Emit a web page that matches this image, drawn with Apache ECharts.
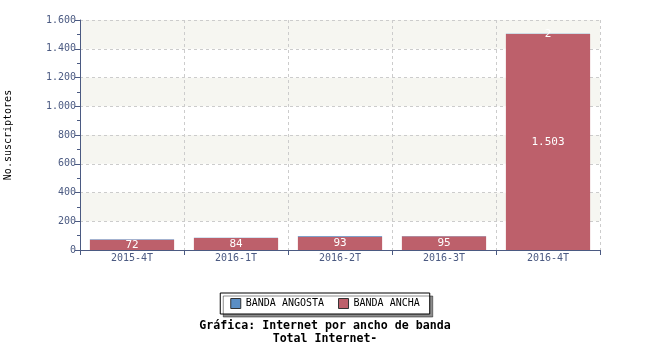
<!DOCTYPE html>
<html><head><meta charset="utf-8">
<script src="https://cdn.jsdelivr.net/npm/echarts@6/dist/echarts.min.js"></script>
<style>html,body{margin:0;padding:0;background:#fff}#c{width:650px;height:350px}</style>
</head><body><div id="c"></div>
<script>
const categories = ['2015-4T','2016-1T','2016-2T','2016-3T','2016-4T'];
const bandaAncha = [72, 84, 93, 95, 1503];
const bandaAngosta = [2, 2, 4, 2, 2];
const yTicks = [0, 200, 400, 600, 800, 1000, 1200, 1400, 1600];

const FONT = 'DejaVu Sans Mono';
const AX = '#4b5a82';
function fmt(v){ return String(v).replace(/\B(?=(\d{3})+(?!\d))/g, '.'); }

const chart = echarts.init(document.getElementById('c'), null, {renderer:'canvas'});
chart.setOption({
  animation:false,
  textStyle:{fontFamily:FONT},
  title:{
    text:'Gráfica: Internet por ancho de banda\nTotal Internet-',
    left:'center', top:314,
    textStyle:{fontFamily:FONT, fontSize:11.6, fontWeight:'bold', color:'#000', lineHeight:13}
  },
  legend:{
    data:['BANDA ANGOSTA','BANDA ANCHA'],
    left:'center', top:293,
    padding:[5,10], itemGap:14,
    itemWidth:10, itemHeight:10, icon:'rect',
    borderColor:'#000', borderWidth:1, borderRadius:0,
    backgroundColor:'#fff',
    shadowColor:'rgba(0,0,0,0.45)', shadowOffsetX:3, shadowOffsetY:3, shadowBlur:0,
    textStyle:{fontFamily:FONT, fontSize:10, color:'#000'},
    itemStyle:{borderColor:'#333', borderWidth:1}
  },
  grid:{left:80, right:50, top:20, bottom:100, outerBoundsMode:'none', containLabel:false},
  xAxis:{
    type:'category', data:categories,
    axisLine:{lineStyle:{color:AX, width:1}},
    axisTick:{show:true, length:5, lineStyle:{color:AX}},
    axisLabel:{fontFamily:FONT, fontSize:10, color:AX, margin:3},
    splitLine:{show:true, lineStyle:{color:'#cccccc', type:[3,3]}}
  },
  yAxis:{
    type:'value', min:yTicks[0], max:yTicks[yTicks.length-1], interval:200,
    name:'No.suscriptores', nameLocation:'middle', nameGap:67, nameRotate:90,
    nameTextStyle:{fontFamily:FONT, fontSize:10, color:'#000'},
    axisLine:{show:true, lineStyle:{color:AX, width:1}},
    axisTick:{show:true, length:5, lineStyle:{color:AX}},
    minorTick:{show:true, splitNumber:2, length:3, lineStyle:{color:AX}},
    axisLabel:{fontFamily:FONT, fontSize:10, color:AX, margin:4, formatter:v=>fmt(v)},
    splitLine:{show:true, lineStyle:{color:'#cccccc', type:[3,3]}},
    splitArea:{show:true, areaStyle:{color:['#ffffff','#f6f6f1']}}
  },
  series:[
    {
      name:'BANDA ANCHA', type:'bar', stack:'t', data:bandaAncha,
      barCategoryGap:'19%',
      itemStyle:{color:'#bd606b'},
      label:{show:true, position:'inside', color:'#fff', fontFamily:FONT, fontSize:11, formatter:p=>fmt(p.value)}
    },
    {
      name:'BANDA ANGOSTA', type:'bar', stack:'t', data:bandaAngosta,
      itemStyle:{color:'#5b8ec4'},
      label:{show:true, position:'inside', color:'#fff', fontFamily:FONT, fontSize:11,
        formatter:p=> (bandaAncha[p.dataIndex] > 500 ? fmt(p.value) : '')}
    }
  ]
});
</script></body></html>
